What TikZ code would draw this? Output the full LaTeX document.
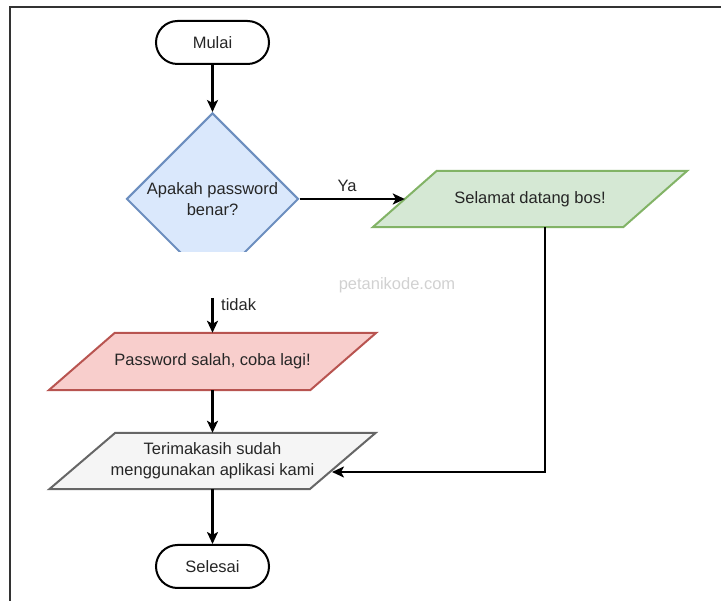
\documentclass[tikz,border=0pt]{standalone}
\usepackage{fontspec}
\setmainfont{Liberation Sans}
\usetikzlibrary{shapes.geometric,arrows.meta,calc,backgrounds}
\definecolor{decfill}{HTML}{DAE8FC}
\definecolor{decline}{HTML}{6C8EBF}
\definecolor{okfill}{HTML}{D5E8D4}
\definecolor{okline}{HTML}{82B366}
\definecolor{errfill}{HTML}{F8CECC}
\definecolor{errline}{HTML}{B85450}
\definecolor{endfill}{HTML}{F5F5F5}
\definecolor{endline}{HTML}{666666}
\newcommand\parabox[3]{%
  \draw[#3] ($(#1.north west)+(#2,0)$) -- ($(#1.north east)+(#2,0)$) --
            ($(#1.south east)-(#2,0)$) -- ($(#1.south west)-(#2,0)$) -- cycle;}
\begin{document}
\begin{tikzpicture}[x=1pt,y=-1pt,
  font=\fontsize{16.5}{21}\selectfont,
  every node/.style={text=black!85},
  term/.style={draw=black, line width=2pt, rounded corners=21.5pt,
    minimum width=113pt, minimum height=43pt, inner sep=0pt, fill=white},
  dec/.style={diamond, draw=decline, fill=decfill, line width=2pt,
    minimum width=172pt, minimum height=172pt, inner sep=0pt, align=center},
  io/.style={inner sep=0pt, align=center},
  okbox/.style={draw=okline, fill=okfill, line width=2pt, line join=miter},
  errbox/.style={draw=errline, fill=errfill, line width=2pt, line join=miter},
  endbox/.style={draw=endline, fill=endfill, line width=2pt, line join=miter},
  conn/.style={line width=2.3pt, draw=black,
    -{Stealth[length=12pt,width=11pt,inset=3pt]}},
  lbl/.style={inner sep=0pt}
]
\useasboundingbox (0,0) rectangle (721,601);
\draw[line width=1.8pt, black!80] (10,601) -- (10,7) -- (721,7);

% watermark
\node[text=black!18] (wm) at (397,285) {petanikode.com};

% nodes
\node[term] (mulai) at (212.5,42.5) {Mulai};
\begin{scope}
  \clip (0,0) rectangle (721,252);
  \node[dec] (dia) at (212.5,199) {Apakah password\\benar?};
\end{scope}
\node[io, minimum width=250pt, minimum height=56pt] (green) at (530,199) {Selamat datang bos!};
\node[io, minimum width=261pt, minimum height=57pt] (red) at (212.5,361.5) {Password salah, coba lagi!};
\node[io, minimum width=260pt, minimum height=56pt] (gray) at (212.5,461) {Terimakasih sudah\\menggunakan aplikasi kami};
\node[term] (selesai) at (212.5,566.5) {Selesai};

\begin{scope}[on background layer]
  \parabox{green}{32}{okbox}
  \parabox{red}{33}{errbox}
  \parabox{gray}{33}{endbox}
\end{scope}

% connectors
\draw[conn] (mulai) -- (dia);
\draw[conn] (dia.east) -- (green.west) node[lbl, midway, above=6pt, xshift=-5pt] (ya) {Ya};
\coordinate (tstart) at (212.5,298);
\draw[conn] (tstart) -- (red);
\node[lbl, anchor=west] (tidak) at (221,305) {tidak};
\draw[conn] (red) -- (gray);
\draw[conn] (gray) -- (selesai);
\coordinate (gin) at (332,472);
\draw[conn] ($(green.south)+(15,0)$) |- (gin);
\end{tikzpicture}
\end{document}
